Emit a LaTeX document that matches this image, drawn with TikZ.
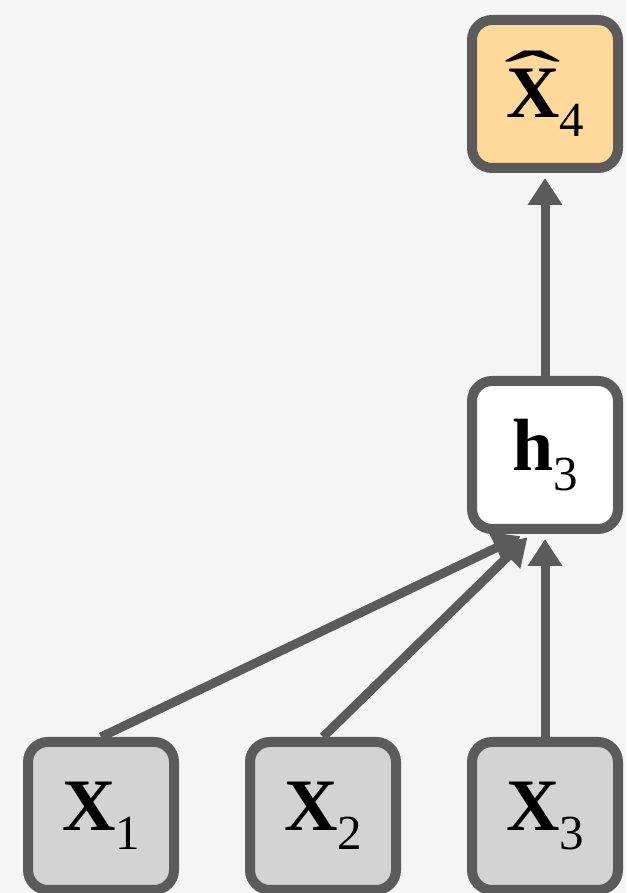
\documentclass[tikz,border=0pt]{standalone}
\usepackage{fontspec}
\setmainfont{Liberation Serif}
\usepackage{graphicx}
\usetikzlibrary{arrows.meta,positioning}

\definecolor{bg}{HTML}{F5F5F5}
\definecolor{edge}{HTML}{5B5B5B}
\definecolor{obs}{HTML}{D3D3D3}
\definecolor{pred}{HTML}{FFD999}

\newcommand{\lab}[2]{\textbf{#1}\raisebox{-0.26em}{\fontsize{49}{49}\selectfont #2}}
\newcommand{\hatX}{\setbox0\hbox{\textbf{X}}%
  \rlap{\hbox to\wd0{\hss\raisebox{0.2em}{\scalebox{2.3}[1]{ˆ}}\hss}}\box0}

\begin{document}
\begin{tikzpicture}[x=1pt,y=1pt,node distance=66pt,
    >={Triangle[length=27pt,width=33pt]},
    box/.style={draw=edge,line width=10pt,rounded corners=20pt,
      minimum width=146pt,minimum height=148pt,inner sep=0pt,
      font=\fontsize{74}{74}\selectfont},
    link/.style={->,draw=edge,line width=9pt,shorten >=5pt}]
  \path[use as bounding box,fill=bg] (0,0) rectangle (626,893);

  \node[box,fill=obs]   (X1) at (101,77)        {\lab{X}{1}};
  \node[box,fill=obs]   (X2) [right=of X1]      {\lab{X}{2}};
  \node[box,fill=obs]   (X3) [right=of X2]      {\lab{X}{3}};
  \node[box,fill=white] (H3) [above=203pt of X3] {\lab{h}{3}};
  \node[box,fill=pred]  (X4) [above=203pt of H3] {\hatX\raisebox{-0.26em}{\fontsize{49}{49}\selectfont 4}};

  \path (X1.north) edge [link] ([xshift=-20pt]H3.south)
        (X2.north) edge [link] ([xshift=-14pt]H3.south)
        (X3) edge [link] (H3)
        (H3) edge [link] (X4);
\end{tikzpicture}
\end{document}
